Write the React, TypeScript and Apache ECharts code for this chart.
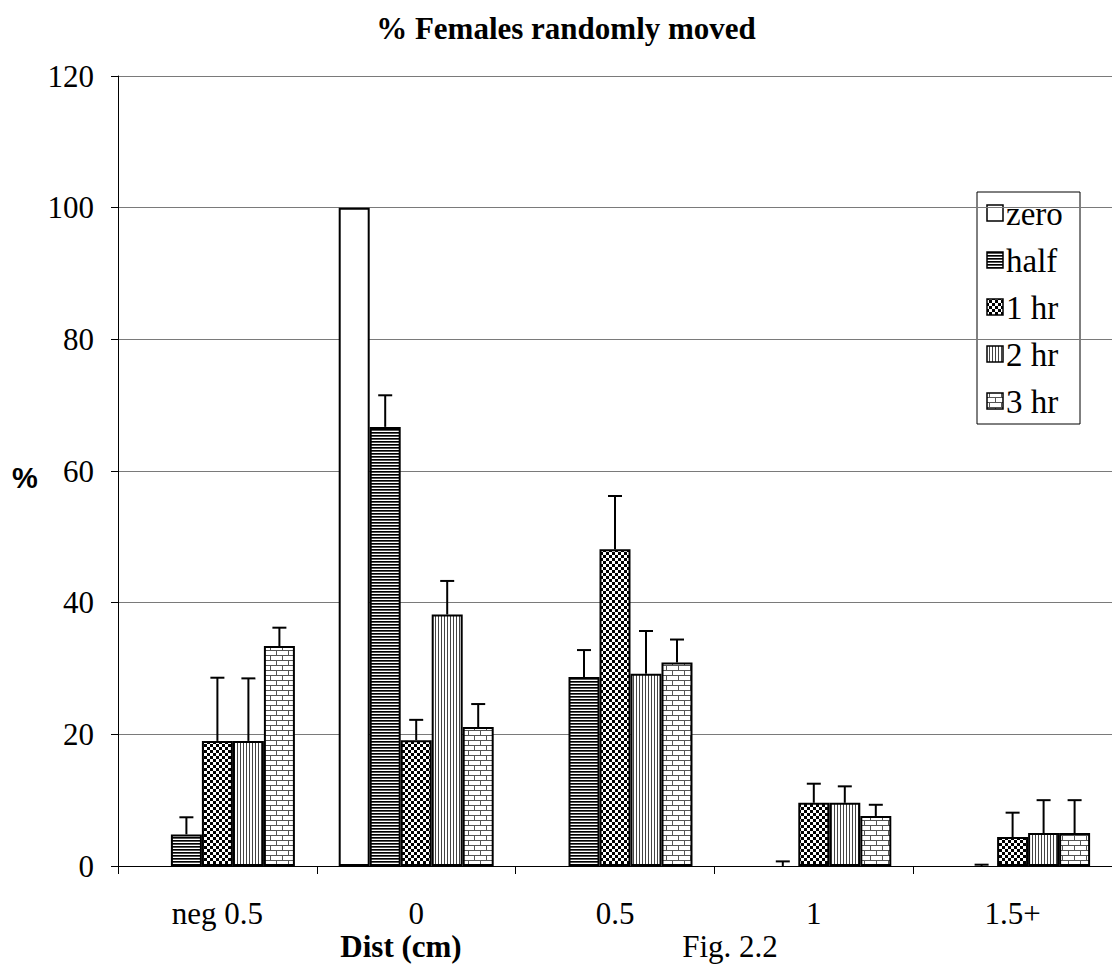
import React, { useEffect, useRef } from "react";
import * as echarts from "echarts";

const categories = ["neg 0.5", "0", "0.5", "1", "1.5+"];
const seriesNames = ["zero", "half", "1 hr", "2 hr", "3 hr"];

const zeroVals = [0, 100, 0, 0, 0];
const halfVals = [4.8, 66.7, 28.7, 0, 0];
const oneHrVals = [19.0, 19.1, 48.1, 9.6, 4.4];
const twoHrVals = [19.0, 38.2, 29.2, 9.6, 5.0];
const threeHrVals = [33.4, 21.1, 30.9, 7.6, 5.0];

// tops of the error bars (value + error)
const halfErrTop = [7.4, 71.5, 32.8, 0.7, 0.2];
const oneHrErrTop = [28.6, 22.2, 56.2, 12.5, 8.1];
const twoHrErrTop = [28.5, 43.3, 35.7, 12.1, 10.0];
const threeHrErrTop = [36.2, 24.6, 34.4, 9.3, 10.0];

const yMin = 0;
const yMax = 120;
const yStep = 20;

const SERIF = "'Liberation Serif', serif";
const BAR_W = 31;

function makePattern(kind: string) {
  const c = document.createElement("canvas");
  let w = 6, h = 6;
  if (kind === "half") { w = 4; h = 3; }
  if (kind === "checker") { w = 6; h = 6; }
  if (kind === "vert") { w = 3; h = 4; }
  if (kind === "brick") { w = 12; h = 10; }
  c.width = w; c.height = h;
  const ctx = c.getContext("2d")!;
  ctx.fillStyle = "#fff";
  ctx.fillRect(0, 0, w, h);
  if (kind === "half") {
    ctx.fillStyle = "#000";
    ctx.fillRect(0, 0, w, 1);
    ctx.fillStyle = "#555";
    ctx.fillRect(0, 1, w, 1);
  } else if (kind === "checker") {
    ctx.fillStyle = "#000";
    ctx.fillRect(0, 0, 3, 3);
    ctx.fillRect(3, 3, 3, 3);
  } else if (kind === "vert") {
    ctx.fillStyle = "#444";
    ctx.fillRect(0, 0, 1, h);
  } else if (kind === "brick") {
    ctx.fillStyle = "#555";
    ctx.fillRect(0, 0, w, 1);
    ctx.fillRect(0, 5, w, 1);
    ctx.fillRect(0, 1, 1, 4);
    ctx.fillRect(6, 6, 1, 4);
  }
  return { image: c.toDataURL(), repeat: "repeat", imageWidth: w, imageHeight: h } as any;
}

export default function App() {
  const ref = useRef<HTMLDivElement>(null);
  useEffect(() => {
    if (!ref.current) return;
    const chart = echarts.init(ref.current, null, { renderer: "svg" });
    const fills = [
      "#ffffff",
      makePattern("half"),
      makePattern("checker"),
      makePattern("vert"),
      makePattern("brick"),
    ];
    const values = [zeroVals, halfVals, oneHrVals, twoHrVals, threeHrVals];
    const errTops: (number[] | null)[] = [null, halfErrTop, oneHrErrTop, twoHrErrTop, threeHrErrTop];

    const barSeries = seriesNames.map((name, k) => ({
      name,
      type: "bar",
      // zero-height bars are not drawn in the reference
      data: values[k].map((v) => (v === 0 ? null : v)),
      barWidth: BAR_W,
      barGap: "0%",
      itemStyle: { color: fills[k], borderColor: "#000", borderWidth: 2 },
      z: 2,
    }));

    const errSeries: any[] = [];
    errTops.forEach((tops, k) => {
      if (!tops) return;
      const offset = (k - 2) * BAR_W;
      errSeries.push({
        name: "err-" + seriesNames[k],
        type: "custom",
        z: 5,
        data: tops.map((t, i) => [i, t, values[k][i]]),
        encode: { x: 0, y: 1 },
        renderItem: (params: any, api: any) => {
          const top = api.coord([api.value(0), api.value(1)]);
          const base = api.coord([api.value(0), api.value(2)]);
          const x = top[0] + offset;
          return {
            type: "group",
            children: [
              { type: "line", shape: { x1: x, y1: base[1], x2: x, y2: top[1] }, style: { stroke: "#000", lineWidth: 2 } },
              { type: "line", shape: { x1: x - 7, y1: top[1], x2: x + 7, y2: top[1] }, style: { stroke: "#000", lineWidth: 2 } },
            ],
          };
        },
      });
    });

    // legend drawn as graphic elements (box + swatches + labels)
    const LEG_X = 977, LEG_Y = 192, LEG_W = 103, LEG_H = 232, LEG_STEP = 47, LEG_FIRST = 21;
    const legendChildren: any[] = [
      {
        type: "rect",
        shape: { x: 0, y: 0, width: LEG_W, height: LEG_H },
        style: { fill: "#fff", stroke: "#000", lineWidth: 1 },
      },
    ];
    seriesNames.forEach((name, k) => {
      const cy = LEG_FIRST + k * LEG_STEP;
      legendChildren.push({
        type: "rect",
        shape: { x: 10, y: cy - 8, width: 16, height: 16 },
        style: { fill: fills[k], stroke: "#000", lineWidth: 1.5 },
      });
      legendChildren.push({
        type: "text",
        x: 29,
        y: cy + 1,
        style: {
          text: name,
          fontFamily: SERIF,
          fontSize: 33,
          fill: "#000",
          align: "left",
          verticalAlign: "middle",
        },
      });
    });

    chart.setOption({
      animation: false,
      backgroundColor: "#ffffff",
      grid: { left: 118, top: 76, width: 1003, height: 790, containLabel: false },
      xAxis: {
        type: "category",
        data: categories,
        axisLine: { lineStyle: { color: "#000", width: 1 } },
        axisTick: { show: true, length: 8, lineStyle: { color: "#000" } },
        axisLabel: { fontFamily: SERIF, fontSize: 31, color: "#000", margin: 32 },
        splitLine: { show: false },
      },
      yAxis: {
        type: "value",
        min: yMin,
        max: yMax,
        interval: yStep,
        axisLine: { show: true, lineStyle: { color: "#000", width: 1 } },
        axisTick: { show: true, length: 7, lineStyle: { color: "#000" } },
        axisLabel: { fontFamily: SERIF, fontSize: 31, color: "#000", margin: 24 },
        splitLine: { show: true, lineStyle: { color: "#7a7a7a", width: 1 } },
      },
      graphic: [
        {
          type: "group",
          x: LEG_X,
          y: LEG_Y,
          z: 100,
          children: legendChildren,
        },
        {
          type: "text",
          x: 566,
          y: 28,
          style: {
            text: "% Females randomly moved",
            fontFamily: SERIF,
            fontWeight: "bold",
            fontSize: 31,
            fill: "#000",
            align: "center",
            verticalAlign: "middle",
          },
        },
        {
          type: "text",
          x: 25,
          y: 478,
          style: {
            text: "%",
            fontFamily: "'Liberation Sans', sans-serif",
            fontWeight: "bold",
            fontSize: 29,
            fill: "#000",
            align: "center",
            verticalAlign: "middle",
          },
        },
        {
          type: "text",
          x: 401,
          y: 946,
          style: {
            text: "Dist (cm)",
            fontFamily: SERIF,
            fontWeight: "bold",
            fontSize: 31,
            fill: "#000",
            align: "center",
            verticalAlign: "middle",
          },
        },
        {
          type: "text",
          x: 730,
          y: 946,
          style: {
            text: "Fig. 2.2",
            fontFamily: SERIF,
            fontSize: 31,
            fill: "#000",
            align: "center",
            verticalAlign: "middle",
          },
        },
      ],
      series: [...barSeries, ...errSeries],
    } as any);
    return () => chart.dispose();
  }, []);
  return (
    <div
      ref={ref}
      style={{ position: "absolute", left: 0, top: 0, width: 1112, height: 968, background: "#fff" }}
    />
  );
}
